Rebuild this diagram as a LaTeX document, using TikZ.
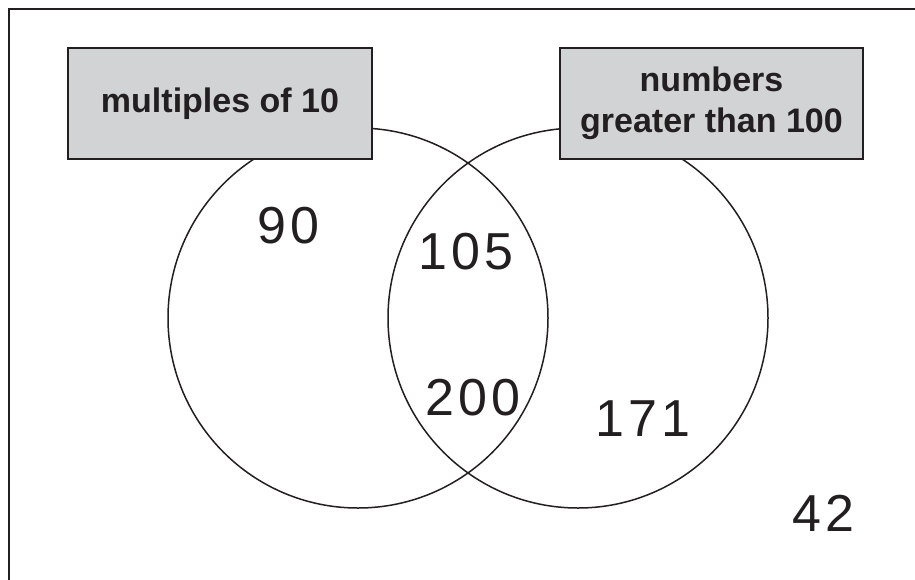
\documentclass[tikz,border=0pt]{standalone}
\usepackage{fontspec}
\setmainfont{Liberation Sans}
\definecolor{ink}{HTML}{231F20}
\definecolor{boxgray}{HTML}{D1D3D4}
\begin{document}
\begin{tikzpicture}[x=1pt,y=-1pt,
  setline/.style={draw=ink,line width=1.5pt},
  labelbox/.style={draw=ink,line width=1.6pt,fill=boxgray,minimum width=304pt,minimum height=111pt,
    inner sep=0pt,align=center,font=\fontsize{34}{41}\selectfont\bfseries,text=ink},
  hand/.style={inner sep=0pt,text=ink,font=\fontsize{52}{60}\selectfont\addfontfeature{LetterSpace=8}}]
\useasboundingbox (0,0) rectangle (915,579);
\draw[draw=ink,line width=2.2pt] (9,9) rectangle (940,600);
\node[setline,circle,minimum size=380pt,inner sep=0pt] (A) at (358,318) {};
\node[setline,circle,minimum size=380pt,inner sep=0pt] (B) at (578,318) {};
\node[labelbox] (LA) at (220,103.5) {multiples of 10};
\node[labelbox,minimum width=303pt] (LB) at (711.5,103.5) {numbers\\greater than 100};
\node[hand] (n90) at (288,226) {90};
\node[hand] (n105) at (466,252) {105};
\node[hand] (n200) at (473,398) {200};
\node[hand] (n171) at (643,419) {171};
\node[hand] (n42) at (823,513) {42};
\end{tikzpicture}
\end{document}
